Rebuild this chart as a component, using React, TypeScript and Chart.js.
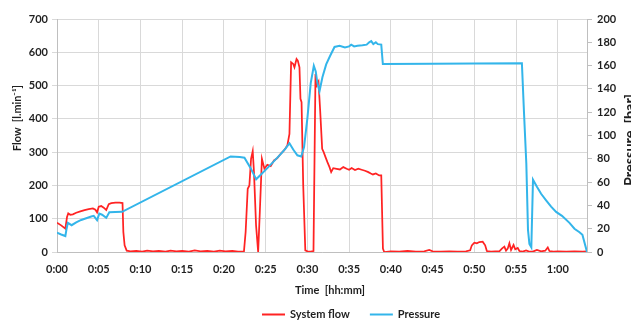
import React, { useEffect, useRef } from 'react';
import { Chart, registerables } from 'chart.js';

Chart.register(...registerables);

// ---- data (time in minutes) ----
const flowTime = [
  0, 0.5, 1.0, 1.2, 1.35, 1.6, 1.9, 2.3, 2.8, 3.3, 3.8, 4.3, 4.6, 4.8, 5.0, 5.3, 5.6, 5.9, 6.2, 6.5, 7.0, 7.5, 7.85,
  7.95, 8.1, 8.35, 8.8, 9.5, 10.2, 10.8, 11.5, 12.2, 13.0, 13.6, 14.3, 15.0, 15.8, 16.5, 17.2, 18.0, 18.8, 19.5,
  20.2, 21.0, 21.7, 22.4, 22.6, 22.85, 23.05, 23.25, 23.45, 23.6, 23.85, 24.1, 24.3, 24.55, 24.85, 25.2, 25.6,
  26.0, 26.4, 26.8, 27.2, 27.6, 27.85, 28.05, 28.3, 28.45, 28.7, 28.85, 29.05, 29.17, 29.3, 29.5, 29.75, 30.0,
  30.4, 30.73, 30.97, 31.1, 31.33, 31.53, 31.77, 31.95, 32.17, 32.4, 32.65, 32.85, 33.1, 33.5, 33.9, 34.3, 34.7,
  35.0, 35.3, 35.7, 36.1, 36.5, 36.9, 37.3, 37.6, 37.85, 38.2, 38.6, 38.85, 39.05, 39.2, 40.0, 41.0, 42.0, 43.0,
  44.0, 44.6, 45.0, 46.0, 47.0, 48.0, 49.0, 49.5, 49.7, 50.0, 50.3, 50.6, 51.0, 51.3, 51.5, 52.0, 52.5, 53.0,
  53.3, 53.6, 53.8, 54.0, 54.2, 54.4, 54.7, 54.9, 55.2, 55.4, 55.8, 56.2, 56.5, 57.0, 57.5, 58.0, 58.5, 58.8,
  59.0, 59.5, 60.0, 61.0, 62.0, 63.0, 63.5,
];
const flowValues = [
  88, 80, 70, 105, 116, 112, 113, 118, 122, 126, 129, 131, 127, 119, 136, 138, 133, 126, 144, 147, 148, 148, 147,
  60, 20, 4, 2, 3, 1, 4, 2, 3, 1, 4, 2, 3, 1, 5, 2, 3, 1, 4,
  2, 3, 1, 2, 60, 190, 200, 280, 303, 240, 80, 0, 120, 280, 250, 262, 258,
  275, 282, 295, 305, 320, 355, 570, 565, 555, 580, 575, 555, 460, 450, 200, 5, 2,
  1, 3, 535, 500, 512, 425, 310, 300, 285, 270, 255, 240, 252, 250, 248, 255, 250,
  247, 252, 246, 250, 247, 244, 240, 236, 233, 236, 230, 230, 10, 0, 2, 1, 3, 1,
  2, 6, 2, 1, 2, 1, 2, 5, 20, 28, 26, 30, 31, 20, 3, 1, 2, 2,
  10, 16, 4, 10, 26, 6, 21, 8, 12, 3, 1, 5, 2, 1, 6, 2, 4, 14,
  3, 1, 2, 1, 2, 1, 2,
];

const pressureTime = [
  0, 0.5, 1.0, 1.15, 1.3, 1.75, 2.3, 2.9, 3.5, 4.1, 4.4, 4.8, 5.07, 5.4, 5.9, 6.27, 7.0, 7.8, 20.8, 21.9, 22.46,
  23.2, 23.86, 24.5, 25.2, 26.0, 26.8, 27.4, 27.85, 28.3, 28.8, 29.26, 29.6, 30.0, 30.4, 30.77, 31.0, 31.2, 31.45,
  31.8, 32.25, 32.7, 33.25, 33.85, 34.5, 35.0, 35.25, 35.6, 36.0, 36.6, 37.1, 37.4, 37.65, 37.9, 38.2, 38.44,
  38.85, 39.04, 45.0, 50.0, 55.7, 55.95, 56.23, 56.43, 56.6, 56.83, 57.03, 57.5, 58.0, 58.6, 59.2, 59.8, 60.5,
  61.4, 62.0, 62.6, 62.95, 63.5,
];
const pressureValues = [
  16.5, 15, 13.7, 20, 25, 23, 25.5, 27.5, 29, 30.5, 31, 27.4, 33, 32, 29.3, 34.2, 34.3, 34.5, 82, 81.5, 81,
  72, 62.4, 67, 72, 78, 84, 89, 93.4, 88, 83, 82, 90, 115, 145, 159.8, 155, 145, 138,
  150, 161, 168, 176, 177, 175.5, 176.5, 178, 176.5, 177, 177.5, 178, 180, 181, 178.5, 180, 178.4,
  178, 161.3, 161.6, 161.8, 162, 120, 76, 19, 7, 4, 62, 56, 50, 44.4, 39, 34.4, 31,
  25, 20, 17, 14.8, 0,
];

const timeTicks = [0, 5, 10, 15, 20, 25, 30, 35, 40, 45, 50, 55, 60];
const seriesNames = ['System flow', 'Pressure'];
const axisTitles = ['Flow  [l.min\u207B\u00B9]', 'Pressure  [bar]', 'Time  [hh:mm]'];

const FONT = 'Lato, "Open Sans", sans-serif';
const RED = '#ff2323';
const BLUE = '#33b5ea';
const GRID = '#d9d9d9';
const AXIS = '#bfbfbf';
const TEXT = '#1f1f1f';

const fmtTime = (v: number) => `${Math.floor(v / 60)}:${String(Math.round(v % 60)).padStart(2, '0')}`;

function fitFont(ctx: CanvasRenderingContext2D, text: string, target: number) {
  ctx.font = `bold 11px ${FONT}`;
  const w = ctx.measureText(text).width || target;
  const size = (11 * target) / w;
  ctx.font = `bold ${size.toFixed(2)}px ${FONT}`;
}

function drawRotated(ctx: CanvasRenderingContext2D, text: string, x: number, y: number) {
  ctx.save();
  ctx.translate(x, y);
  ctx.rotate(-Math.PI / 2);
  ctx.textAlign = 'center';
  ctx.textBaseline = 'middle';
  ctx.fillText(text, 0, 0);
  ctx.restore();
}

export default function App() {
  const ref = useRef<HTMLCanvasElement>(null);

  useEffect(() => {
    if (!ref.current) return;

    const overlay = {
      id: 'overlay',
      afterDraw(chart: any) {
        const ctx = chart.ctx as CanvasRenderingContext2D;
        ctx.save();
        ctx.fillStyle = TEXT;

        // left axis title
        fitFont(ctx, axisTitles[0], 66);
        drawRotated(ctx, axisTitles[0], 17, 118);

        // right axis title (partly cut by the edge like the reference)
        fitFont(ctx, axisTitles[1], 92);
        drawRotated(ctx, axisTitles[1], 630.5, 140);

        // x axis title
        ctx.font = `bold 11px ${FONT}`;
        ctx.textAlign = 'center';
        ctx.textBaseline = 'middle';
        ctx.fillText(axisTitles[2], 330, 290);

        // legend
        const y = 314.5;
        const colors = [RED, BLUE];
        let x = 262;
        ctx.textBaseline = 'middle';
        ctx.textAlign = 'left';
        seriesNames.forEach((name, i) => {
          ctx.strokeStyle = colors[i];
          ctx.lineWidth = 2;
          ctx.beginPath();
          ctx.moveTo(x, y);
          ctx.lineTo(x + 23, y);
          ctx.stroke();
          x += 23 + 5;
          ctx.fillText(name, x, y);
          x += ctx.measureText(name).width + 20;
        });
        ctx.restore();
      },
    };

    const chart = new Chart(ref.current, {
      type: 'line',
      data: {
        datasets: [
          {
            label: seriesNames[0],
            data: flowTime.map((t, i) => ({ x: t, y: flowValues[i] })),
            borderColor: RED,
            backgroundColor: RED,
            borderWidth: 1.75,
            pointRadius: 0,
            tension: 0,
            yAxisID: 'y',
            order: 1,
          },
          {
            label: seriesNames[1],
            data: pressureTime.map((t, i) => ({ x: t, y: pressureValues[i] })),
            borderColor: BLUE,
            backgroundColor: BLUE,
            borderWidth: 2,
            pointRadius: 0,
            tension: 0,
            yAxisID: 'y1',
            order: 0,
          },
        ],
      },
      options: {
        responsive: false,
        animation: false,
        events: [],
        layout: { padding: { top: 19, bottom: 20, left: 0, right: 0 } },
        plugins: {
          legend: { display: false },
          tooltip: { enabled: false },
        },
        scales: {
          x: {
            type: 'linear',
            min: 0,
            max: 63.5,
            afterBuildTicks: (s: any) => {
              s.ticks = timeTicks.map((v) => ({ value: v }));
            },
            afterFit: (s: any) => {
              s.height = 50;
            },
            grid: { color: GRID, lineWidth: 1, drawTicks: false },
            border: { color: AXIS, width: 1 },
            ticks: {
              padding: 11,
              color: TEXT,
              font: { family: FONT, size: 11, weight: 'bold' },
              callback: (v: any) => fmtTime(Number(v)),
              maxRotation: 0,
              autoSkip: false,
            },
          },
          y: {
            type: 'linear',
            position: 'left',
            min: 0,
            max: 700,
            afterFit: (s: any) => {
              s.width = 57;
            },
            grid: { color: GRID, lineWidth: 1, drawTicks: true, tickLength: 5 },
            border: { color: AXIS, width: 1 },
            ticks: {
              stepSize: 100,
              padding: 4,
              color: TEXT,
              font: { family: FONT, size: 11, weight: 'bold' },
            },
          },
          y1: {
            type: 'linear',
            position: 'right',
            min: 0,
            max: 200,
            afterFit: (s: any) => {
              s.width = 44;
            },
            grid: { drawOnChartArea: false, color: AXIS, drawTicks: true, tickLength: 5 },
            border: { color: AXIS, width: 1 },
            ticks: {
              stepSize: 20,
              padding: 5,
              color: TEXT,
              font: { family: FONT, size: 11, weight: 'bold' },
            },
          },
        },
      },
      plugins: [overlay],
    });

    return () => chart.destroy();
  }, []);

  return (
    <div style={{ position: 'absolute', left: 0, top: 0, width: 631, height: 322, overflow: 'hidden', background: '#fff' }}>
      <canvas ref={ref} width={631} height={322} style={{ display: 'block' }} />
    </div>
  );
}
